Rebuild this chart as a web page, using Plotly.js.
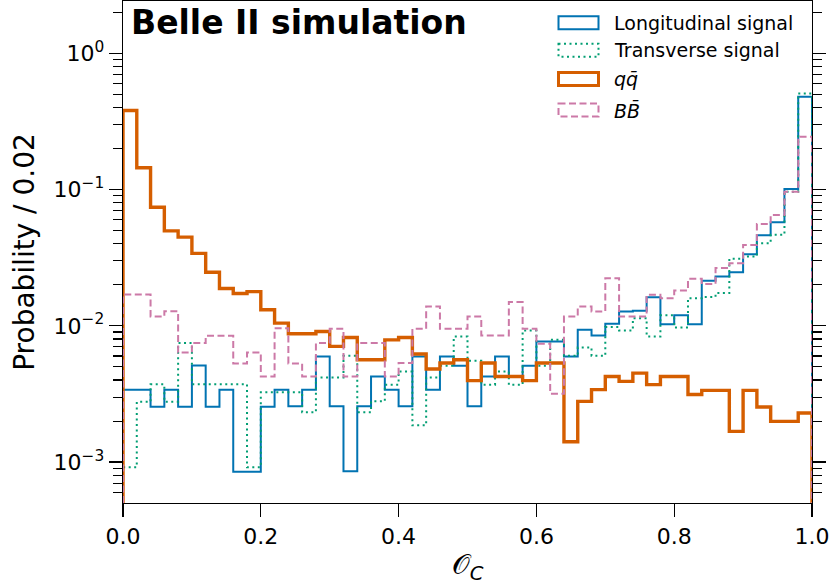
<!DOCTYPE html>
<html>
<head>
<meta charset="utf-8">
<script src="https://cdn.plot.ly/plotly-3.0.1.min.js"></script>
<style>html,body{margin:0;padding:0;background:#fff;}#chart{width:830px;height:585px;}</style>
</head>
<body>
<div id="chart"></div>
<script>
// ---- data (probability per 0.02 bin, 50 bins over [0, 1]) ----
const binWidth = 0.02;
const xMin = 0, xMax = 1;

const longitudinal = [0.0034,0.0034,0.00255,0.0034,0.00255,0.00512,0.00255,0.0034,0.00085,0.00085,
  0.00255,0.0034,0.00257,0.0034,0.00596,0.00257,0.000857,0.00257,0.00425,0.0034,
  0.00257,0.00596,0.0034,0.00596,0.00509,0.00257,0.00425,0.00596,0.00425,0.00509,
  0.00767,0.00767,0.00596,0.00935,0.0085,0.01034,0.01273,0.0129,0.0162,0.01028,
  0.01197,0.01028,0.0214,0.023,0.0247,0.0335,0.0462,0.0574,0.1009,0.479];

const transverse = [0.000916,0.00277,0.00372,0.00277,0.00747,0.00372,0.00372,0.00372,0.00372,0.000916,
  0.00325,0.00325,0.00325,0.00232,0.00418,0.00418,0.00603,0.00232,0.00279,0.0037,
  0.00462,0.00186,0.00418,0.00509,0.00835,0.00554,0.0037,0.00462,0.0037,0.00924,
  0.00509,0.00789,0.00603,0.00694,0.00603,0.00978,0.00924,0.01138,0.00835,0.01197,
  0.0097,0.01595,0.0163,0.0174,0.031,0.0322,0.0403,0.0465,0.0964,0.507];

const qqbar = [0.38,0.1445,0.0741,0.0497,0.0447,0.034,0.0247,0.0188,0.01725,0.0178,
  0.0131,0.01047,0.00874,0.00874,0.00908,0.00706,0.0082,0.00564,0.00564,0.00789,
  0.0082,0.00621,0.00482,0.00533,0.00564,0.00396,0.00533,0.00425,0.00425,0.00396,
  0.00533,0.00533,0.00141,0.00279,0.0034,0.00425,0.00391,0.0045,0.0037,0.00425,
  0.00425,0.00313,0.00336,0.00336,0.00168,0.00336,0.00254,0.00199,0.00199,0.00229];

const bbbar = [0.017,0.017,0.0117,0.0128,0.00638,0.00747,0.00845,0.00845,0.0053,0.00638,
  0.00425,0.0096,0.0053,0.00425,0.00747,0.0095,0.00425,0.00747,0.00747,0.00425,
  0.00533,0.0095,0.01386,0.0095,0.0095,0.0117,0.0085,0.0085,0.01492,0.0095,
  0.00738,0.00318,0.0117,0.01386,0.01273,0.02236,0.0117,0.0117,0.01687,0.01595,
  0.01815,0.0221,0.0203,0.0265,0.0288,0.0392,0.0559,0.065,0.0964,0.244];

const seriesNames = ['Longitudinal signal', 'Transverse signal', '<i>qq\u0304</i>', '<i>BB\u0304</i>'];
const yTickVals = [1e-3, 1e-2, 1e-1, 1];
const yTickText = ['10<sup>\u22123</sup>', '10<sup>\u22122</sup>', '10<sup>\u22121</sup>', '10<sup>0</sup>'];
const xTickVals = [0, 0.2, 0.4, 0.6, 0.8, 1.0];
const xTickText = ['0.0', '0.2', '0.4', '0.6', '0.8', '1.0'];

// ---- styling ----
const FONT = 'DejaVu Sans, sans-serif';
const styles = [
  {color: '#0173B2', width: 2.0, dash: 'solid'},
  {color: '#029E73', width: 2.0, dash: '2px,3.5px'},
  {color: '#D55E00', width: 3.4, dash: 'solid'},
  {color: '#CC79A7', width: 2.0, dash: '7px,3.5px'}
];
const FLOOR = 1e-8; // step outline drops to the bottom at the outer edges

function stepOutline(vals) {
  const x = [xMin], y = [FLOOR];
  vals.forEach((v, i) => {
    x.push(xMin + i * binWidth, xMin + (i + 1) * binWidth);
    y.push(v, v);
  });
  x.push(xMax); y.push(FLOOR);
  return {x, y};
}

const allSeries = [longitudinal, transverse, qqbar, bbbar];
const traces = allSeries.map((vals, k) => {
  const s = stepOutline(vals);
  return {
    type: 'scatter', mode: 'lines', x: s.x, y: s.y, name: seriesNames[k],
    line: {color: styles[k].color, width: styles[k].width, dash: styles[k].dash, shape: 'linear'},
    hoverinfo: 'skip', showlegend: false
  };
});

// minor ticks for log axis
const minorVals = [];
for (let e = -4; e <= 0; e++) for (let d = 2; d <= 9; d++) minorVals.push(d * Math.pow(10, e));

// ---- layout geometry in pixels ----
const W = 830, H = 585;
const M = {l: 123, r: 18, t: 1, b: 82};
const PW = W - M.l - M.r, PH = H - M.t - M.b;
const px = x => (x - M.l) / PW;
const py = y => (H - M.b - y) / PH;

// custom matplotlib-like legend (patch outlines)
const legRows = [22.7, 50.3, 79, 110];
const shapes = [], annotations = [];
legRows.forEach((cy, k) => {
  shapes.push({type: 'rect', xref: 'paper', yref: 'paper',
    x0: px(558.5), x1: px(598.5), y0: py(cy - 6.5), y1: py(cy + 6.5),
    line: {color: styles[k].color, width: Math.min(styles[k].width, 3), dash: styles[k].dash},
    fillcolor: 'rgba(0,0,0,0)'});
  annotations.push({xref: 'paper', yref: 'paper', x: px(612), y: py(cy), xanchor: 'left', yanchor: 'middle',
    text: seriesNames[k], showarrow: false, font: {family: FONT, size: 19, color: '#000'}});
});
annotations.push({xref: 'paper', yref: 'paper', x: px(129), y: py(22.5), xanchor: 'left', yanchor: 'middle',
  text: '<b>Belle II simulation</b>', showarrow: false, font: {family: FONT, size: 33, color: '#000'}});

const layout = {
  width: W, height: H,
  margin: M,
  paper_bgcolor: '#fff', plot_bgcolor: '#fff',
  font: {family: FONT, color: '#000'},
  showlegend: false,
  xaxis: {
    range: [xMin, xMax], showgrid: false, zeroline: false,
    showline: true, linecolor: '#000', linewidth: 1.3, mirror: 'ticks',
    ticks: 'outside', ticklen: 13, tickwidth: 1.3, tickcolor: '#000',
    tickvals: xTickVals, ticktext: xTickText,
    tickfont: {family: FONT, size: 22, color: '#000'},
    title: {text: '\uD835\uDCAA<sub><i>C</i></sub>', font: {family: FONT, size: 28, color: '#000'}, standoff: 8}
  },
  yaxis: {
    type: 'log', range: [-3.30, 0.383], showgrid: false, zeroline: false,
    showline: true, linecolor: '#000', linewidth: 1.3, mirror: 'allticks',
    ticks: 'outside', ticklen: 13, tickwidth: 1.3, tickcolor: '#000',
    tickvals: yTickVals, ticktext: yTickText,
    tickfont: {family: FONT, size: 22, color: '#000'},
    minor: {tickvals: minorVals, ticks: 'outside', ticklen: 9, tickwidth: 1.1, tickcolor: '#000', showgrid: false},
    title: {text: 'Probability / 0.02', font: {family: FONT, size: 28, color: '#000'}, standoff: 10}
  },
  shapes, annotations
};

Plotly.newPlot('chart', traces, layout, {staticPlot: true, displayModeBar: false});
</script>
</body>
</html>
